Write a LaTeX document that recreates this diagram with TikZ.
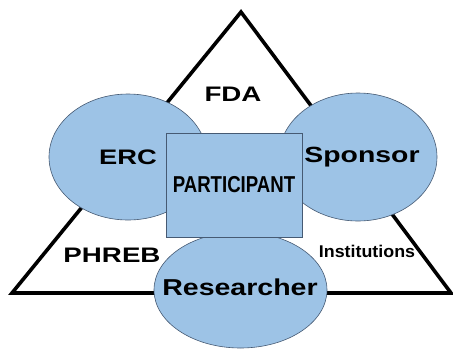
\documentclass[tikz,border=0pt]{standalone}
\usepackage{fontspec}
\setmainfont{Liberation Sans}
\usetikzlibrary{shapes.geometric}
\definecolor{ovalfill}{RGB}{157,195,230}
\definecolor{ovalline}{RGB}{70,90,115}
\newcommand{\wide}[2]{\scalebox{#1}[1]{#2}}
\tikzset{
    OV/.style ={ellipse, draw=ovalline, line width=0.6pt, fill=ovalfill, inner sep=0pt},
    BX/.style ={rectangle, draw=ovalline, line width=0.6pt, fill=ovalfill, minimum width=136pt, minimum height=104pt, inner sep=0pt},
    LB/.style ={font=\bfseries\fontsize{21}{24}\selectfont, inner sep=0pt}}

\begin{document}
\begin{tikzpicture}[x=1pt,y=-1pt]
        \useasboundingbox (0,0) rectangle (453,349);
        \draw[line width=3.6pt, line join=miter] (241,12) -- (12,293) -- (451,293) -- cycle;
        \node[OV, minimum width=158pt, minimum height=126pt] (erc) at (128,157) {};
        \node[OV, minimum width=158pt, minimum height=128pt] (sponsor) at (358,157) {};
        \node[OV, minimum width=173pt, minimum height=116pt] (researcher) at (240.5,290) {};
        \node[BX] (participant) at (234,185) {};
        \node[LB] (erctext) at (erc.center) {\wide{1.3}{ERC}};
        \node[LB, font=\bfseries\fontsize{22}{24}\selectfont] (sponsortext) at (362,157) {\wide{1.29}{Sponsor}};
        \node[LB, font=\bfseries\fontsize{23}{26}\selectfont] (researchertext) at (240,287) {\wide{1.24}{Researcher}};
        \node[LB, font=\bfseries\fontsize{23}{26}\selectfont] (participanttext) at (participant.center) {\wide{0.81}{PARTICIPANT}};
        \node[LB] (fda) at (233,94) {\wide{1.32}{FDA}};
        \node[LB] (phreb) at (112,255) {\wide{1.32}{PHREB}};
        \node[LB, font=\bfseries\fontsize{17}{20}\selectfont] (inst) at (367,251) {\wide{1.05}{Institutions}};
    \end{tikzpicture}
\end{document}
